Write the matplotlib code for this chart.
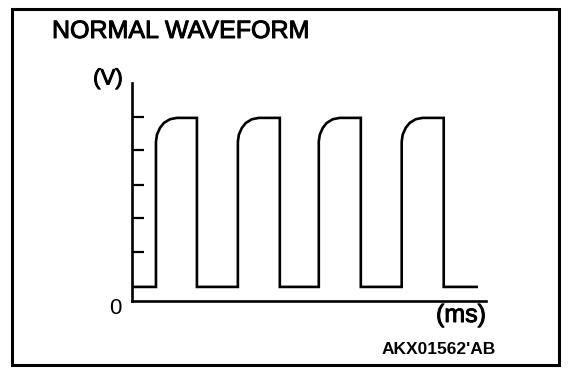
import matplotlib
matplotlib.use("Agg")
from matplotlib import pyplot as plt
from matplotlib.patches import Rectangle
import matplotlib.patheffects as pe

plt.rcParams['font.family'] = ['Liberation Sans', 'DejaVu Sans']

# waveform (x in ms-ish units, y in V-ish units, axis origin = 0)
rise_times = [0.289, 1.277, 2.253, 3.253]
fall_times = [0.783, 1.783, 2.760, 3.760]
low_level = 0.42
high_level = 5.46
# rounded corner after each rising edge: (offset from rise, level)
corner_dx = [0.0, 0.012, 0.048, 0.096, 0.169, 0.253]
corner_v = [4.75, 4.96, 5.16, 5.31, 5.42, 5.46]
trace_end = 4.157
y_ticks = [1.46, 2.47, 3.47, 4.50, 5.48]

xs = [0.0]
ys = [low_level]
for r, f in zip(rise_times, fall_times):
    xs += [r]
    ys += [low_level]
    for dx, v in zip(corner_dx, corner_v):
        xs.append(r + dx)
        ys.append(v)
    xs += [f, f]
    ys += [high_level, low_level]
xs.append(trace_end)
ys.append(low_level)

fig = plt.figure(figsize=(5.76, 3.78), dpi=100)

# outer frame
fig.patches.append(Rectangle((12/576, 1 - 365/378), (559-12)/576, (365-9)/378,
                             transform=fig.transFigure, fill=False,
                             edgecolor='black', linewidth=2.2))

ax = fig.add_axes([132/576, 1 - 301/378, (486-132)/576, (301-83)/378])
ax.plot(xs, ys, color='black', linewidth=1.9, solid_joinstyle='miter')
ax.set_xlim(0, 4.27)
ax.set_ylim(0, 6.5)

for s in ['top', 'right']:
    ax.spines[s].set_visible(False)
ax.spines['left'].set_linewidth(1.9)
ax.spines['bottom'].set_linewidth(1.9)
ax.set_xticks([])
ax.set_yticks(y_ticks)
ax.set_yticklabels([])
ax.tick_params(axis='y', direction='in', length=8.5, width=1.6)
ax.patch.set_alpha(0)

# scanned lettering is a bit heavier than regular, lighter than bold
thick = [pe.withStroke(linewidth=0.7, foreground='black')]

fig.text(52/576, 1 - 31/378, 'NORMAL WAVEFORM', fontsize=18,
         va='center', ha='left', path_effects=thick)
fig.text(108/576, 1 - 79/378, '(V)', fontsize=16,
         va='center', ha='center', path_effects=thick)
fig.text(115.5/576, 1 - 309/378, '0', fontsize=16, va='center', ha='center')
fig.text(461/576, 1 - 315/378, '(ms)', fontsize=18,
         va='center', ha='center', path_effects=thick)
fig.text(439/576, 1 - 349/378, "AKX01562'AB", fontsize=12.5, fontweight='bold',
         va='center', ha='center')

plt.savefig('out.png', dpi=100)
